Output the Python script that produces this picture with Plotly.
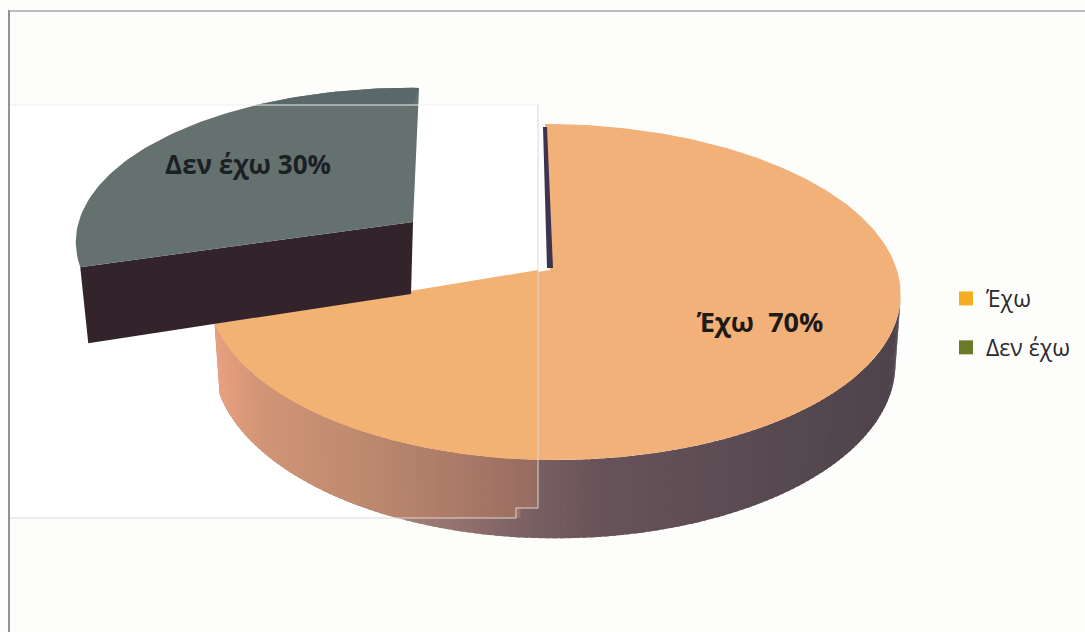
import numpy as np
import plotly.graph_objects as go

categories = ["Έχω", "Δεν έχω"]
values = [70, 30]
legend_colors = ["#f5ae22", "#6b7a28"]

W, H = 1085, 632
APEX_X, APEX_Y = 550.0, 270.0
PERSP = 0.131
TILT_A = -129.8
R_LEFT, R_RIGHT = 340.0, 347.0
SKEW = 5.0
DEPTH = 68.0
BOX_X, BOX_TOP, BOX_STEP_X, BOX_STEP_Y, BOX_BOT = 538.0, 105.0, 516.0, 508.0, 518.0


def project(theta_deg):
    t = np.radians(theta_deg)
    u, v = np.cos(t), np.sin(t)
    d = 1 + PERSP * v
    r = np.where(u >= 0, R_RIGHT, R_LEFT)
    x = APEX_X + r * u / d - SKEW * v
    y = (TILT_A * v + APEX_Y) / d
    return x, y


def bottom_of(theta_deg):
    x, y = project(theta_deg)
    t = np.radians(theta_deg)
    d = 1 + PERSP * np.sin(t)
    return APEX_X + (x - APEX_X) * 0.985, y + DEPTH / d


def ramp(x, stops):
    xs = [s[0] for s in stops]
    cs = np.array([[int(s[1][i:i + 2], 16) for i in (1, 3, 5)] for s in stops], float)
    rgb = [int(round(np.interp(x, xs, cs[:, k]))) for k in range(3)]
    return f"rgb({rgb[0]},{rgb[1]},{rgb[2]})"


OUTER = [(380, "#a98478"), (450, "#96746f"), (516, "#7f6365"), (600, "#68535a"),
         (800, "#56484f"), (900, "#4f434c")]
INNER = [(215, "#e8a080"), (260, "#d19576"), (350, "#c08b70"), (450, "#ad7c68"), (538, "#966b61")]

fig = go.Figure()


def poly(x, y, color, line=0.0):
    fig.add_trace(go.Scatter(
        x=list(x), y=list(y), mode="lines", fill="toself", fillcolor=color,
        line=dict(color=color, width=line), hoverinfo="skip", showlegend=False))


# pasted white panel
poly([9, BOX_X, BOX_X, BOX_STEP_X, BOX_STEP_X, 9],
     [BOX_TOP, BOX_TOP, BOX_STEP_Y, BOX_STEP_Y, BOX_BOT, BOX_BOT], "#ffffff")

share = values[1] / sum(values)
split = 90 + 360 * share            # boundary between the two slices

# rim of the big slice: each strip is overlapped by the next, so no seams show
thetas = np.linspace(split, 360 - 10, 141)
step = thetas[1] - thetas[0]
for a in thetas[:-1]:
    b = a + step * 1.6
    ts = np.linspace(a, b, 4)
    xt, yt = project(ts)
    xb, yb = bottom_of(ts)
    mx = float(np.mean(xt))
    poly(np.r_[xt, xb[::-1]], np.r_[yt, yb[::-1]], ramp(mx, OUTER))
for a in thetas[:-1]:
    b = a + step * 1.6
    ts = np.linspace(a, b, 4)
    xt, yt = project(ts)
    xb, yb = bottom_of(ts)
    mx = float(np.mean(xt))
    if mx < BOX_X:
        lim = BOX_BOT if mx < BOX_STEP_X else BOX_STEP_Y
        xc = np.minimum(xt, BOX_X)
        xd = np.minimum(xb, BOX_X)
        poly(np.r_[xc, xd[::-1]], np.r_[yt, np.minimum(yb, lim)[::-1]], ramp(mx, INNER))

# top of the big slice
arc = np.linspace(split, 90 + 360, 300)
ax, ay = project(arc)
big_x = np.r_[APEX_X, ax]
big_y = np.r_[APEX_Y, ay]
poly(big_x, big_y, "#f3b17a")
poly(np.minimum(big_x, BOX_X), big_y, "#f2b274")

# dark sliver at twelve o'clock
top_x, top_y = project(np.array(90.0))
poly([top_x - 2, top_x + 2, APEX_X + 3, APEX_X - 3],
     [top_y + 3, top_y + 3, APEX_Y - 2, APEX_Y - 2], "#3d3350")

# detached slice: the same projected arc, moved out of the pie
NEW_APEX = (413.0, 222.0)
A = [[0.98, -0.075], [0.011, 0.918]]
sarc = np.linspace(90, split, 80)
sx, sy = project(sarc)
dx, dy = sx - APEX_X, sy - APEX_Y
px = NEW_APEX[0] + A[0][0] * dx + A[0][1] * dy
py = NEW_APEX[1] + A[1][0] * dx + A[1][1] * dy
# front wall
poly([NEW_APEX[0], px[-1], px[-1] + 8, NEW_APEX[0] - 2],
     [NEW_APEX[1], py[-1], py[-1] + 76, NEW_APEX[1] + 72], "#33232a")
slice_x = np.r_[NEW_APEX[0], px]
slice_y = np.r_[NEW_APEX[1], py]
poly(slice_x, slice_y, "#65716f")
poly(slice_x, np.minimum(slice_y, BOX_TOP), "#5b686a")

# data labels
fig.add_trace(go.Scatter(
    x=[760, 248], y=[325, 167], mode="text",
    text=[f"{categories[0]}\u00a0\u00a0{values[0]}%", f"{categories[1]} {values[1]}%"],
    textposition="middle center",
    textfont=dict(family="Open Sans", size=[27, 26], color=["#1d1a18", "#1b2024"], weight="bold"),
    hoverinfo="skip", showlegend=False))

# legend
for name, col in zip(categories, legend_colors):
    fig.add_trace(go.Scatter(
        x=[None], y=[None], mode="markers", name=name, legendgroup=name,
        marker=dict(symbol="square", size=14, color=col)))

frame = "#dcd7d3"
shapes = [
    dict(type="path", path=f"M 9 {BOX_TOP} L {BOX_X} {BOX_TOP}",
         line=dict(color="#efefec", width=1)),
    dict(type="path", path=f"M {BOX_X} {BOX_TOP} L {BOX_X} {BOX_STEP_Y} L {BOX_STEP_X} {BOX_STEP_Y} "
                           f"L {BOX_STEP_X} {BOX_BOT} L 9 {BOX_BOT}",
         line=dict(color=frame, width=1)),
    dict(type="line", x0=9, x1=9, y0=10, y1=H, line=dict(color="#8f9399", width=2)),
    dict(type="line", x0=9, x1=W, y0=11, y1=11, line=dict(color="#a5a7aa", width=1.5)),
]

fig.update_layout(
    width=W, height=H, margin=dict(l=0, r=0, t=0, b=0),
    paper_bgcolor="#fdfefc", plot_bgcolor="#fdfefc",
    xaxis=dict(range=[0, W], visible=False, fixedrange=True),
    yaxis=dict(range=[H, 0], visible=False, fixedrange=True),
    shapes=shapes,
    showlegend=True,
    legend=dict(x=946 / W, y=1 - 277 / H, xanchor="left", yanchor="top",
                bgcolor="rgba(0,0,0,0)", borderwidth=0, tracegroupgap=16,
                font=dict(family="Open Sans", size=23, color="#2a2a2e")),
)
fig.write_html("out.html", config=dict(displayModeBar=False),
               post_script="document.body.style.margin='0';document.body.style.overflow='hidden';")
